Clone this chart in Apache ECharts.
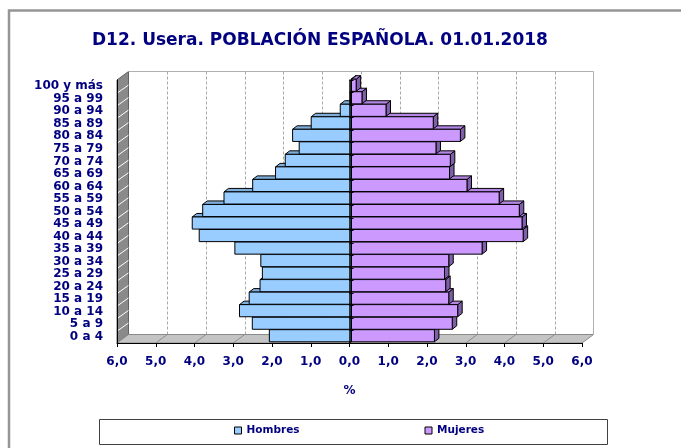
<!DOCTYPE html>
<html><head><meta charset="utf-8">
<script src="https://cdn.jsdelivr.net/npm/echarts@6/dist/echarts.min.js"></script>
<style>html,body{margin:0;padding:0;background:#fff}#c{width:681px;height:448px}</style>
</head><body><div id="c"></div>
<script>
// ---- data ----
const categories = ['0 a 4','5 a 9','10 a 14','15 a 19','20 a 24','25 a 29','30 a 34','35 a 39','40 a 44','45 a 49','50 a 54','55 a 59','60 a 64','65 a 69','70 a 74','75 a 79','80 a 84','85 a 89','90 a 94','95 a 99','100 y más'];
const hombres = [2.12,2.56,2.89,2.64,2.36,2.30,2.34,3.01,3.93,4.11,3.84,3.29,2.55,1.96,1.71,1.35,1.52,1.04,0.29,0.03,0.01];
const mujeres = [2.14,2.60,2.74,2.51,2.43,2.40,2.51,3.37,4.43,4.40,4.33,3.81,2.98,2.53,2.55,2.18,2.81,2.11,0.89,0.27,0.12];
const xMin = -6, xMax = 6, xStep = 1;
const titleText = 'D12. Usera. POBLACIÓN ESPAÑOLA. 01.01.2018';
const axisName = '%';

// ---- layout / style ----
const NAVY = '#000080';
const FONT = '"DejaVu Sans", Verdana, sans-serif';
const G = {left: 117, top: 80, width: 465, height: 263};
const DX = 11.5, DY = -8.5;         // wall depth
const BDX = 4.5, BDY = -3.5;        // bar depth
const SHX = 2, SHY = -1;            // bar placement inside depth

const chart = echarts.init(document.getElementById('c'), null, {renderer: 'canvas'});

function makeRender(front, top, side) {
  return function (params, api) {
    const v = api.value(0), c = api.value(1);
    const a = api.coord([0, c]), b = api.coord([v, c]);
    const band = api.size([0, 1])[1];
    const h = band - 0.4;
    const xl = Math.min(a[0], b[0]) + SHX, xr = Math.max(a[0], b[0]) + SHX;
    const yt = a[1] - h / 2 + SHY, yb = a[1] + h / 2 + SHY;
    return {type: 'group', children: [
      {type: 'polygon', shape: {points: [[xr, yt], [xr + BDX, yt + BDY], [xr + BDX, yb + BDY], [xr, yb]]}, style: {fill: side, stroke: '#000', lineWidth: 1}},
      {type: 'polygon', shape: {points: [[xl, yt], [xr, yt], [xr + BDX, yt + BDY], [xl + BDX, yt + BDY]]}, style: {fill: top, stroke: '#000', lineWidth: 1}},
      {type: 'rect', shape: {x: xl, y: yt, width: xr - xl, height: yb - yt}, style: {fill: front, stroke: '#000', lineWidth: 1}}
    ]};
  };
}

const option = {
  animation: false,
  backgroundColor: '#fff',
  title: {text: titleText, left: 87, top: 27, textStyle: {fontFamily: FONT, fontWeight: 'bold', fontSize: 17, color: NAVY}},
  legend: {
    left: 234, top: 425, padding: 0, itemWidth: 7, itemHeight: 7, itemGap: 125, icon: 'rect',
    textStyle: {fontFamily: FONT, fontWeight: 'bold', fontSize: 10.5, color: NAVY},
    data: [
      {name: 'Hombres', itemStyle: {color: '#99CCFF', borderColor: '#000', borderWidth: 1}},
      {name: 'Mujeres', itemStyle: {color: '#CC99FF', borderColor: '#000', borderWidth: 1}}
    ]
  },
  grid: [
    {left: G.left, top: G.top, width: G.width, height: G.height},
    {left: G.left + DX, top: G.top + DY, width: G.width, height: G.height}
  ],
  xAxis: [
    {gridIndex: 0, type: 'value', min: xMin, max: xMax, interval: xStep,
     axisLine: {show: true, lineStyle: {color: '#000', width: 1}},
     axisTick: {show: true, length: 4, lineStyle: {color: '#000'}},
     splitLine: {show: false},
     axisLabel: {margin: 13, fontFamily: FONT, fontWeight: 'bold', fontSize: 12, color: NAVY,
       formatter: v => Math.abs(v).toFixed(1).replace('.', ',')},
     name: axisName, nameLocation: 'middle', nameGap: 42,
     nameTextStyle: {fontFamily: FONT, fontWeight: 'bold', fontSize: 12, color: NAVY}},
    {gridIndex: 1, type: 'value', min: xMin, max: xMax, interval: xStep,
     axisLine: {show: false}, axisTick: {show: false}, axisLabel: {show: false},
     splitLine: {show: true, showMinLine: false, showMaxLine: false, lineStyle: {color: '#a8a8a8', type: [3, 2], width: 1}}}
  ],
  yAxis: [
    {gridIndex: 0, type: 'category', data: categories,
     axisLine: {show: true, onZero: false, lineStyle: {color: '#000'}},
     axisTick: {show: false},
     axisLabel: {interval: 0, margin: 14, fontFamily: FONT, fontWeight: 'bold', fontSize: 12, color: NAVY}},
    {gridIndex: 0, type: 'category', data: categories, z: 6,
     axisLine: {show: true, onZero: true, lineStyle: {color: '#000', width: 1.5}},
     axisTick: {show: true, interval: 0, length: 4, lineStyle: {color: '#000'}},
     axisLabel: {show: false}},
    {gridIndex: 1, type: 'category', data: categories, show: false}
  ],
  series: [
    {name: 'Hombres', type: 'custom', xAxisIndex: 0, yAxisIndex: 0,
     itemStyle: {color: '#99CCFF'},
     renderItem: makeRender('#99CCFF', '#7FAEDC', '#5F8FBF'),
     encode: {x: 0, y: 1},
     data: hombres.map((v, i) => [-v, i])},
    {name: 'Mujeres', type: 'custom', xAxisIndex: 0, yAxisIndex: 0,
     itemStyle: {color: '#CC99FF'},
     renderItem: makeRender('#CC99FF', '#B487E6', '#7F5FAA'),
     encode: {x: 0, y: 1},
     data: mujeres.map((v, i) => [v, i])}
  ]
};
chart.setOption(option);

// ---- 3D walls, floor, frames (decoration computed from the axis scale) ----
const X = v => chart.convertToPixel({xAxisIndex: 0}, v);
const L = G.left, R = G.left + G.width, T = G.top, B = G.top + G.height;
const gfx = [];
// outer frame
gfx.push({type: 'rect', shape: {x: 9, y: 10.5, width: 900, height: 900}, style: {fill: 'none', stroke: '#959595', lineWidth: 2.5}, z: 0});
// left wall
gfx.push({type: 'polygon', shape: {points: [[L, T], [L + DX, T + DY], [L + DX, B + DY], [L, B]]}, style: {fill: '#8a8a8a', stroke: '#606060', lineWidth: 1}, z: 0});
const band = G.height / categories.length;
for (let k = 1; k < categories.length; k++) {
  const y = T + k * band;
  gfx.push({type: 'line', shape: {x1: L + 1, y1: y, x2: L + DX, y2: y + DY + 1}, style: {stroke: '#ffffff', lineWidth: 1}, z: 0});
}
// floor
gfx.push({type: 'polygon', shape: {points: [[L, B], [R, B], [R + DX, B + DY], [L + DX, B + DY]]}, style: {fill: '#c4c4c4', stroke: '#8a8a8a', lineWidth: 1}, z: 0});
for (let v = xMin + xStep; v < xMax; v += xStep) {
  const x = X(v);
  gfx.push({type: 'line', shape: {x1: x, y1: B, x2: x + DX, y2: B + DY}, style: {stroke: '#8f8f8f', lineWidth: 1}, z: 0});
}
// back wall border (top + right)
gfx.push({type: 'polyline', shape: {points: [[L + DX, T + DY], [R + DX, T + DY], [R + DX, B + DY]]}, style: {fill: 'none', stroke: '#b0b0b0', lineWidth: 1}, z: 0});
// legend box
gfx.push({type: 'rect', shape: {x: 99.5, y: 419.5, width: 508, height: 25}, style: {fill: 'none', stroke: '#404040', lineWidth: 1}, z: 0});
chart.setOption({graphic: gfx});
</script></body></html>
